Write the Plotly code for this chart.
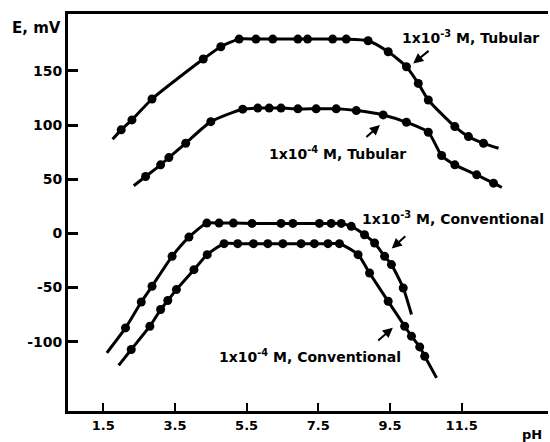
import plotly.graph_objects as go

# 1x10^-3 M, Tubular (first/last entries are the curve ends, no marker)
ph_t3 = [1.76, 2.0, 2.3, 2.86, 4.29, 4.78, 5.29, 5.76, 6.23, 6.93, 7.2, 7.9, 8.28,
         8.89, 9.45, 9.96, 10.29, 10.57, 11.31, 11.69, 12.11, 12.53]
e_t3 = [87, 95.6, 104.8, 124.1, 161, 172.4, 179.4, 179.4, 179.4, 179.4, 179.4, 179.4, 179.4,
        177.9, 167.7, 153.9, 138.5, 123.2, 98.6, 89.4, 83.2, 78.6]

# 1x10^-4 M, Tubular
ph_t4 = [2.35, 2.68, 3.1, 3.33, 3.8, 4.5, 5.39, 5.81, 6.13, 6.46, 6.93, 7.44, 8.0,
         8.56, 9.31, 9.96, 10.57, 10.94, 11.31, 11.92, 12.39, 12.62]
e_t4 = [44, 52.5, 63.3, 70, 83.2, 103.2, 114.7, 115.7, 115.7, 115.7, 115, 115, 115,
        113.4, 109.4, 102.6, 93.4, 71.9, 63.3, 54.1, 46.4, 42.4]

# 1x10^-3 M, Conventional
ph_c3 = [1.6, 2.12, 2.56, 2.86, 3.42, 3.89, 4.39, 4.73, 5.13, 5.65, 6.46, 6.79, 7.53,
         7.86, 8.14, 8.42, 8.79, 9.07, 9.35, 9.54, 9.87, 10.1]
e_c3 = [-110.3, -87.3, -63.3, -48.8, -21.2, -3.4, 9.5, 9.5, 9.5, 9.2, 9.2, 9.2, 9.2,
        9.2, 9.2, 6.5, -1.2, -8.9, -21.2, -28.8, -50.4, -74.9]

# 1x10^-4 M, Conventional
ph_c4 = [1.93, 2.28, 2.8, 3.1, 3.3, 3.54, 4.03, 4.4, 4.87, 5.25, 5.69, 6.09, 6.51,
         7.02, 7.39, 7.77, 8.09, 8.61, 8.93, 9.45, 9.91, 10.1, 10.33, 10.47, 10.8]
e_c4 = [-121.9, -107.2, -85.7, -70.3, -62, -51.9, -33.5, -19.6, -9.5, -9.5, -9.5, -9.5, -9.5,
        -9.5, -9.5, -9.5, -9.5, -19.6, -36.6, -62.7, -85.7, -94.9, -104.8, -113.4, -133.4]

x_ticks = [1.5, 3.5, 5.5, 7.5, 9.5, 11.5]
x_ticklabels = ["1.5", "3.5", "5.5", "7.5", "9.5", "11.5"]
y_ticks = [-100, -50, 0, 50, 100, 150]
y_ticklabels = ["-100", "-50", "0", "50", "100", "150"]

labels = ["1x10<sup>-3</sup> M, Tubular", "1x10<sup>-4</sup> M, Tubular",
          "1x10<sup>-3</sup> M, Conventional", "1x10<sup>-4</sup> M, Conventional"]
label_pos = [(11.76, 181.7), (8.04, 73.9), (11.25, 13.9), (7.28, -113)]
# arrows: (tail_x, tail_y, head_x, head_y)
arrows = [(10.62, 169.7, 10.15, 157), (8.80, 87.7, 9.22, 100.1),
          (9.97, -1.5, 9.55, -13.9), (9.13, -100, 9.58, -87.1)]

FAM = "DejaVu Sans, Liberation Sans, Arial, sans-serif"

fig = go.Figure()
for xs, ys in [(ph_t3, e_t3), (ph_t4, e_t4), (ph_c3, e_c3), (ph_c4, e_c4)]:
    fig.add_trace(go.Scatter(x=xs, y=ys, mode="lines",
                             line=dict(color="black", width=3, shape="spline", smoothing=0.6),
                             hoverinfo="skip", showlegend=False))
    fig.add_trace(go.Scatter(x=xs[1:-1], y=ys[1:-1], mode="markers",
                             marker=dict(color="black", size=9), showlegend=False))

font_lab = dict(family=FAM, size=14, color="black", weight="bold")

for txt, (x, y) in zip(labels, label_pos):
    fig.add_annotation(x=x, y=y, xref="x", yref="y", text=txt, showarrow=False, font=font_lab)
for tx, ty, hx, hy in arrows:
    fig.add_annotation(x=hx, y=hy, ax=tx, ay=ty, xref="x", yref="y", axref="x", ayref="y",
                       text="", showarrow=True, arrowhead=2, arrowsize=1, arrowwidth=2,
                       arrowcolor="black")

fig.add_annotation(x=-0.0104, y=0.965, xref="paper", yref="paper", text="E, mV", showarrow=False,
                   xanchor="right", yanchor="middle",
                   font=dict(family=FAM, size=15, color="black", weight="bold"))
fig.add_annotation(x=0.967, y=-0.06, xref="paper", yref="paper", text="pH", showarrow=False,
                   xanchor="center", yanchor="middle",
                   font=dict(family=FAM, size=13, color="black", weight="bold"))

fig.update_layout(
    width=550, height=442,
    margin=dict(l=68, r=2, t=14, b=31),
    paper_bgcolor="white", plot_bgcolor="white",
    xaxis=dict(range=[0.515, 13.91], tickvals=x_ticks, ticktext=x_ticklabels, showgrid=False,
               zeroline=False, showline=True, linecolor="black", linewidth=3, mirror=True,
               ticks="inside", ticklen=8, tickwidth=2, tickcolor="black",
               tickfont=dict(family=FAM, size=13, color="black", weight="bold")),
    yaxis=dict(range=[-164, 202.6], tickvals=y_ticks, ticktext=y_ticklabels, showgrid=False,
               zeroline=False, showline=True, linecolor="black", linewidth=3, ticks="inside",
               ticklen=10, tickwidth=3, tickcolor="black",
               tickfont=dict(family=FAM, size=14, color="black", weight="bold")),
)

fig.write_html("out.html", config={"displayModeBar": False},
               post_script="document.body.style.margin='0';document.body.style.overflow='hidden';")
